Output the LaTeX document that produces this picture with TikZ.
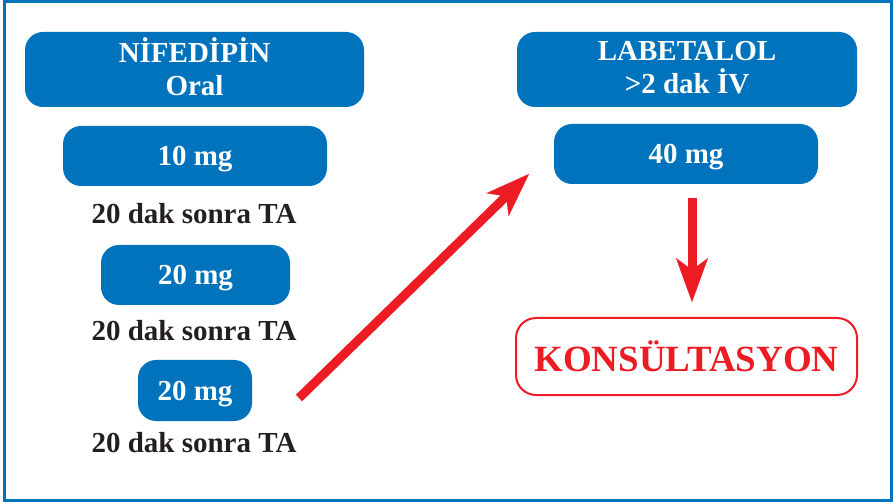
\documentclass[tikz,border=0pt]{standalone}
\usepackage{fontspec}
\setmainfont{Liberation Serif}
\usetikzlibrary{arrows.meta}
\definecolor{tblue}{RGB}{0,115,188}
\definecolor{tred}{RGB}{237,28,36}
\definecolor{tdark}{RGB}{35,31,32}

\begin{document}
\begin{tikzpicture}[x=1pt,y=-1pt]
\tikzstyle{every node}+=[inner sep=0pt, font=\bfseries\fontsize{29}{33}\selectfont]
\tikzstyle{bluebox}=[fill=tblue, rounded corners=18pt, text=white, align=center]
\tikzstyle{dosebox}=[bluebox, text depth=0pt, minimum height=60pt]
\tikzstyle{drugbox}=[bluebox, text depth=5pt, minimum height=75pt]
\tikzstyle{waittext}=[text=tdark, anchor=base]
\tikzstyle{redarrow}=[tred, line width=9pt, -{Stealth[length=44pt, width=32pt, inset=12pt, line width=0.1pt]}]
\useasboundingbox (0,0) rectangle (894,502);
\draw [tblue, line width=3pt] (4.5,1.5) rectangle (891.5,500.5);
% left column
\node [drugbox, minimum width=339pt] (nif) at (194.5,69.5) {NİFEDİPİN\\Oral};
\node [dosebox, minimum width=264pt] (mga) at (195,156) {10 mg};
\node [waittext] (waita) at (194,224) {20 dak sonra TA};
\node [dosebox, minimum width=189pt] (mgb) at (195.5,275) {20 mg};
\node [waittext] (waitb) at (194,341) {20 dak sonra TA};
\node [dosebox, minimum width=114pt, minimum height=61pt] (mgc) at (195,390.5) {20 mg};
\node [waittext] (waitc) at (194,452) {20 dak sonra TA};
% right column
\node [drugbox, minimum width=340pt] (lab) at (687,69.5) {LABETALOL\\>2 dak İV};
\node [dosebox, minimum width=264pt] (mgd) at (686,154) {40 mg};
\node [draw=tred, line width=2pt, rounded corners=20pt, text=tred, minimum width=341pt, minimum height=77pt, font=\bfseries\fontsize{37}{40}\selectfont] (kons) at (686.5,356.5) {KONSÜLTASYON};
% arrows
\coordinate (up1) at (299,398);
\coordinate (up2) at (529,174);
\coordinate (dn1) at (692,198);
\coordinate (dn2) at (692,302);
\draw [redarrow] (up1) -- (up2);
\draw [redarrow] (dn1) -- (dn2);
\end{tikzpicture}
\end{document}
